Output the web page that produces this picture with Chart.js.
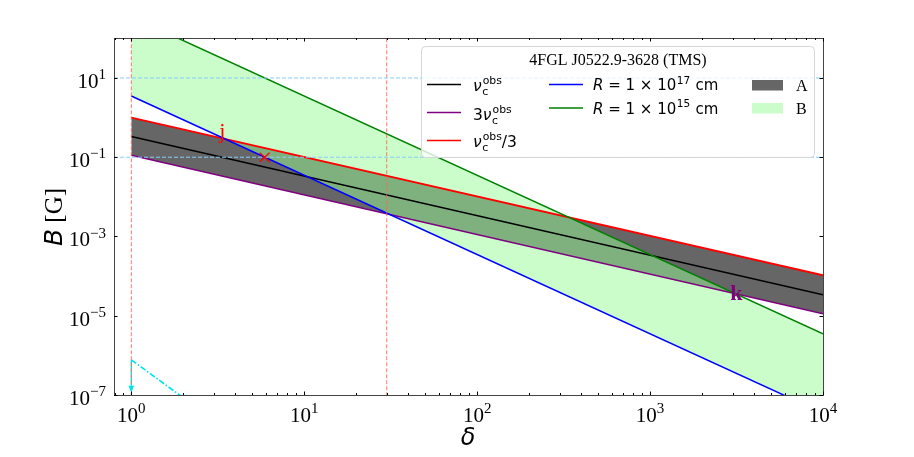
<!DOCTYPE html>
<html>
<head>
<meta charset="utf-8">
<script src="https://cdn.jsdelivr.net/npm/chart.js@4/dist/chart.umd.min.js"></script>
<style>
html,body{margin:0;padding:0;background:#fff;}
#wrap{width:914px;height:457px;}
</style>
</head>
<body>
<div id="wrap"><canvas id="c" width="914" height="457"></canvas></div>
<script>
// ---- data ----
const deltaEnds   = [1, 10000];          // δ range of the constraint lines
const nuObs       = [0.335, 3.4e-5];      // ν_c^obs  (black)
const nuObsTimes3 = [0.112, 1.12e-5];     // 3ν_c^obs (purple)
const nuObsOver3  = [1.0, 1.05e-4];       // ν_c^obs/3 (red)
const radius17    = [3.5, 3.5e-8];        // R = 1e17 cm (blue)
const radius15    = [350, 3.5e-6];        // R = 1e15 cm (green)
const cyanDelta   = [1, 2];
const cyanB       = [7.7e-7, 8.5e-8];
const arrowDelta  = [1, 1];
const arrowB      = [7.7e-7, 1.2e-7];
const vLineDelta  = [1, 30];
const hLineB      = [10, 0.1];
const crossDelta  = [5.9];
const crossB      = [0.1];
const annText     = ['j', 'k'];
const annDelta    = [3.5, 3150];
const annB        = [0.2857, 3.55e-5];
const xRange      = [0.794, 10000];
const yRange      = [1e-7, 102];
const xMajor      = [1, 10, 100, 1000, 10000];
const xMajorExp   = ['0', '1', '2', '3', '4'];
const yMajor      = [1e-7, 1e-5, 1e-3, 1e-1, 10];
const yMajorExp   = ['\u22127', '\u22125', '\u22123', '\u22121', '1'];
const legendTitle = '4FGL J0522.9-3628 (TMS)';

const pts = (xs, ys) => xs.map((x, i) => ({x: x, y: ys[i]}));

const SERIF = '"Liberation Serif", "Times New Roman", serif';
const SANS = '"DejaVu Sans", sans-serif';
const CYAN = '#00e5ee';

function drawNu(ctx, x, base, fs, color) {
  ctx.fillStyle = color || '#000';
  ctx.font = 'italic ' + fs + 'px ' + SANS;
  ctx.fillText('\u03BD', x, base);
  const w = ctx.measureText('\u03BD').width;
  const sfs = fs * 0.7;
  ctx.font = sfs + 'px ' + SANS;
  const wo = ctx.measureText('obs').width;
  const wc = ctx.measureText('c').width;
  ctx.fillText('obs', x + w + 1, base - fs * 0.42);
  ctx.fillText('c', x + w + 0.5, base + fs * 0.26);
  return x + w + 1 + Math.max(wo, wc);
}

function drawR(ctx, x, base, fs, exp) {
  ctx.fillStyle = '#000';
  ctx.font = 'italic ' + fs + 'px ' + SANS;
  ctx.fillText('R', x, base);
  x += ctx.measureText('R').width;
  ctx.font = fs + 'px ' + SANS;
  const s1 = ' = 1 \u00D7 10';
  ctx.fillText(s1, x, base);
  x += ctx.measureText(s1).width;
  ctx.font = (fs * 0.7) + 'px ' + SANS;
  ctx.fillText(exp, x + 0.5, base - fs * 0.42);
  x += ctx.measureText(exp).width + 1;
  ctx.font = fs + 'px ' + SANS;
  ctx.fillText(' cm', x, base);
}

function drawPow(ctx, xRight, xCenter, base, exp, fs) {
  ctx.font = fs + 'px ' + SERIF;
  const w10 = ctx.measureText('10').width;
  const sfs = Math.round(fs * 0.7);
  ctx.font = sfs + 'px ' + SERIF;
  const we = ctx.measureText(exp).width;
  let x0;
  if (xCenter !== null) x0 = xCenter - (w10 + we) / 2;
  else x0 = xRight - (w10 + we);
  ctx.font = fs + 'px ' + SERIF;
  ctx.fillText('10', x0, base);
  ctx.font = sfs + 'px ' + SERIF;
  ctx.fillText(exp, x0 + w10, base - fs * 0.42);
}

const decor = {
  id: 'decor',
  afterDatasetsDraw(chart) {
    const ctx = chart.ctx;
    const xs = chart.scales.x, ys = chart.scales.y;
    ctx.save();
    // arrow head at the end of the cyan upper-limit arrow
    const ax = xs.getPixelForValue(arrowDelta[1]);
    const ay = ys.getPixelForValue(arrowB[1]);
    ctx.fillStyle = CYAN;
    ctx.beginPath();
    ctx.moveTo(ax, ay + 1);
    ctx.lineTo(ax - 2.8, ay - 6);
    ctx.lineTo(ax + 2.8, ay - 6);
    ctx.closePath();
    ctx.fill();
    // red cross marker
    crossDelta.forEach((d, i) => {
      const px = xs.getPixelForValue(d), py = ys.getPixelForValue(crossB[i]);
      ctx.strokeStyle = '#ff0000';
      ctx.lineWidth = 1.4;
      ctx.beginPath();
      ctx.moveTo(px - 5, py - 4.5); ctx.lineTo(px + 5, py + 4.5);
      ctx.moveTo(px - 5, py + 4.5); ctx.lineTo(px + 5, py - 4.5);
      ctx.stroke();
    });
    // annotations j / k
    ctx.textAlign = 'center';
    const annCol = ['#ff0000', '#800080'];
    annText.forEach((t, i) => {
      const px = xs.getPixelForValue(annDelta[i]);
      const py = ys.getPixelForValue(annB[i]);
      ctx.fillStyle = annCol[i];
      if (i === 0) { ctx.font = '22px ' + SERIF; ctx.textBaseline = 'alphabetic'; ctx.fillText(t, px - 3, py - 1); }
      else { ctx.font = 'bold 22px ' + SERIF; ctx.textBaseline = 'middle'; ctx.fillText(t, px, py); }
    });
    ctx.restore();
  },
  afterDraw(chart) {
    const ctx = chart.ctx;
    const a = chart.chartArea;
    const xs = chart.scales.x, ys = chart.scales.y;
    ctx.save();
    // frame
    ctx.strokeStyle = '#444';
    ctx.lineWidth = 1;
    ctx.strokeRect(Math.round(a.left) + 0.5, Math.round(a.top) + 0.5, Math.round(a.right - a.left), Math.round(a.bottom - a.top));
    // ticks
    ctx.strokeStyle = '#000';
    ctx.beginPath();
    const xTick = (v, len) => {
      const p = Math.round(xs.getPixelForValue(v)) + 0.5;
      if (p < a.left || p > a.right + 1) return;
      ctx.moveTo(p, a.bottom); ctx.lineTo(p, a.bottom - len);
      ctx.moveTo(p, a.top); ctx.lineTo(p, a.top + len);
    };
    for (let d = 0.1; d <= 1000; d *= 10) {
      for (let m = 2; m <= 9; m++) xTick(d * m, 2);
    }
    xMajor.forEach(v => xTick(v, 3.5));
    yMajor.forEach(v => {
      const p = Math.round(ys.getPixelForValue(v)) + 0.5;
      ctx.moveTo(a.left, p); ctx.lineTo(a.left + 3.5, p);
      ctx.moveTo(a.right, p); ctx.lineTo(a.right - 3.5, p);
    });
    ctx.stroke();
    // tick labels
    ctx.fillStyle = '#000';
    ctx.textAlign = 'left';
    ctx.textBaseline = 'alphabetic';
    xMajor.forEach((v, i) => {
      drawPow(ctx, null, xs.getPixelForValue(v), a.bottom + 26.5, xMajorExp[i], 21);
    });
    yMajor.forEach((v, i) => {
      drawPow(ctx, 106, null, ys.getPixelForValue(v) + 10, yMajorExp[i], 21);
    });
    // axis titles
    ctx.font = 'italic 24px ' + SANS;
    ctx.textAlign = 'center';
    ctx.fillText('\u03B4', 468, 445);
    ctx.save();
    ctx.translate(61.5, 217);
    ctx.rotate(-Math.PI / 2);
    ctx.textAlign = 'left';
    ctx.font = 'italic 25px ' + SANS;
    const wB = ctx.measureText('B').width;
    ctx.font = '25px ' + SERIF;
    const wG = ctx.measureText(' [G]').width;
    const x0 = -(wB + wG) / 2;
    ctx.font = 'italic 25px ' + SANS;
    ctx.fillText('B', x0, 0);
    ctx.font = '25px ' + SERIF;
    ctx.fillText(' [G]', x0 + wB, 0);
    ctx.restore();

    // legend
    const L = 421.5, T = 46.5, R = 814.5, B = 157.5, rad = 4;
    ctx.beginPath();
    ctx.moveTo(L + rad, T);
    ctx.arcTo(R, T, R, B, rad);
    ctx.arcTo(R, B, L, B, rad);
    ctx.arcTo(L, B, L, T, rad);
    ctx.arcTo(L, T, R, T, rad);
    ctx.closePath();
    ctx.fillStyle = 'rgba(255,255,255,0.8)';
    ctx.fill();
    ctx.strokeStyle = '#d6d6d6';
    ctx.lineWidth = 1;
    ctx.stroke();
    ctx.fillStyle = '#000';
    ctx.textAlign = 'center';
    ctx.font = '16px ' + SERIF;
    ctx.fillText(legendTitle, 618, 65);
    ctx.textAlign = 'left';
    const handle = (x, y, col) => {
      ctx.strokeStyle = col; ctx.lineWidth = 1.5;
      ctx.beginPath(); ctx.moveTo(x, y); ctx.lineTo(x + 34, y); ctx.stroke();
    };
    handle(427, 84.5, '#000000');
    handle(427, 112.5, '#800080');
    handle(427, 140.5, '#ff0000');
    handle(549, 84.5, '#0000ff');
    handle(549, 108, '#008000');
    const fs = 15.5;
    drawNu(ctx, 473, 91, fs);
    ctx.font = fs + 'px ' + SANS;
    ctx.fillStyle = '#000';
    ctx.fillText('3', 473, 119.5);
    drawNu(ctx, 473 + ctx.measureText('3').width, 119.5, fs);
    const e3 = drawNu(ctx, 473, 147, fs);
    ctx.font = fs + 'px ' + SANS;
    ctx.fillStyle = '#000';
    ctx.fillText('/3', e3, 147);
    drawR(ctx, 593, 90, 15, '17');
    drawR(ctx, 593, 113.5, 15, '15');
    ctx.fillStyle = '#666666';
    ctx.fillRect(752, 80, 31, 10.5);
    ctx.fillStyle = 'rgba(152,251,152,0.5)';
    ctx.fillRect(752, 103, 31, 10.5);
    ctx.fillStyle = '#000';
    ctx.font = '16px ' + SERIF;
    ctx.fillText('A', 796, 91);
    ctx.fillText('B', 796, 113.5);
    ctx.restore();
  }
};

const dashRed = 'rgba(255,100,80,0.85)';
const data = {
  datasets: [
    { data: pts(xRange, [hLineB[0], hLineB[0]]), borderColor: '#87cefa', borderWidth: 1, borderDash: [4, 2], pointRadius: 0 },
    { data: pts(xRange, [hLineB[1], hLineB[1]]), borderColor: '#87cefa', borderWidth: 1, borderDash: [4, 2], pointRadius: 0 },
    { data: pts([vLineDelta[0], vLineDelta[0]], [1e-9, 1e4]), borderColor: dashRed, borderWidth: 1, borderDash: [4, 2], pointRadius: 0 },
    { data: pts([vLineDelta[1], vLineDelta[1]], [1e-9, 1e4]), borderColor: dashRed, borderWidth: 1, borderDash: [4, 2], pointRadius: 0 },
    { data: pts(cyanDelta, cyanB), borderColor: CYAN, borderWidth: 1.7, borderDash: [6, 2, 1.5, 2], pointRadius: 0 },
    { data: pts(arrowDelta, [arrowB[0], arrowB[1] * 1.3]), borderColor: CYAN, borderWidth: 1.3, pointRadius: 0 },
    { data: pts(deltaEnds, radius17), borderColor: '#0000ff', borderWidth: 1.5, pointRadius: 0, fill: { target: 7 }, backgroundColor: 'rgba(152,251,152,0.5)' },
    { data: pts(deltaEnds, radius15), borderColor: '#008000', borderWidth: 1.5, pointRadius: 0 },
    { data: pts(deltaEnds, nuObsOver3), borderColor: '#ff0000', borderWidth: 1.8, pointRadius: 0, fill: { target: 9 }, backgroundColor: '#666666' },
    { data: pts(deltaEnds, nuObsTimes3), borderColor: '#800080', borderWidth: 1.5, pointRadius: 0 },
    { data: pts(deltaEnds, nuObs), borderColor: '#000000', borderWidth: 1.5, pointRadius: 0 }
  ]
};

new Chart(document.getElementById('c'), {
  type: 'line',
  data: data,
  options: {
    responsive: false,
    animation: false,
    devicePixelRatio: 1,
    layout: { padding: { left: 114, right: 91, top: 38, bottom: 62 } },
    plugins: { legend: { display: false }, tooltip: { enabled: false }, filler: { drawTime: 'beforeDatasetsDraw' } },
    elements: { line: { tension: 0 } },
    scales: {
      x: { type: 'logarithmic', min: xRange[0], max: xRange[1], display: false },
      y: { type: 'logarithmic', min: yRange[0], max: yRange[1], display: false }
    }
  },
  plugins: [decor]
});
</script>
</body>
</html>
